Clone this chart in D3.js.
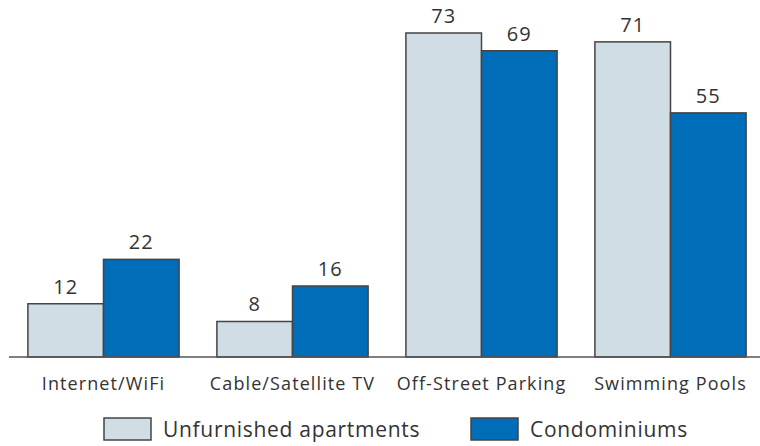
<!DOCTYPE html>
<html lang="en">
<head>
<meta charset="utf-8">
<title>Amenities</title>
<script src="https://cdn.jsdelivr.net/npm/d3@7/dist/d3.min.js"></script>
<style>
  body { margin: 0; background: #fff; }
  text { font-family: "Open Sans", "DejaVu Sans", sans-serif; fill: #333; }
</style>
</head>
<body>
<script>
// data
var categories = ["Internet/WiFi", "Cable/Satellite TV", "Off-Street Parking", "Swimming Pools"];
var seriesNames = ["Unfurnished apartments", "Condominiums"];
var unfurnished = [12, 8, 73, 71];
var condos = [22, 16, 69, 55];
var colors = ["#d0dde4", "#006db8"];

var width = 760, height = 446;
var baseY = 357;

var svg = d3.select("body").append("svg")
    .attr("width", width)
    .attr("height", height);

var x0 = d3.scaleBand()
    .domain(categories)
    .range([9, 765])
    .paddingInner(0.2)
    .paddingOuter(0.1);

var x1 = d3.scaleBand()
    .domain([0, 1])
    .range([0, x0.bandwidth()]);

var y = d3.scaleLinear()
    .domain([0, 73])
    .range([baseY, 33]);

var rows = categories.map(function (c, i) {
    return { cat: c, vals: [unfurnished[i], condos[i]] };
});

var groups = svg.selectAll("g.grp")
    .data(rows)
    .enter()
    .append("g")
    .attr("class", "grp")
    .attr("transform", function (d) { return "translate(" + x0(d.cat) + ",0)"; });

groups.selectAll("rect")
    .data(function (d) { return d.vals; })
    .enter()
    .append("rect")
    .attr("x", function (d, i) { return x1(i); })
    .attr("y", function (d) { return y(d); })
    .attr("width", x1.bandwidth())
    .attr("height", function (d) { return baseY - y(d); })
    .style("fill", function (d, i) { return colors[i]; })
    .style("stroke", "#444")
    .style("stroke-width", 1.5);

groups.selectAll("text.val")
    .data(function (d) { return d.vals; })
    .enter()
    .append("text")
    .attr("class", "val")
    .attr("x", function (d, i) { return x1(i) + x1.bandwidth() / 2; })
    .attr("y", function (d) { return y(d) - 10; })
    .attr("text-anchor", "middle")
    .style("font-size", "20px")
    .style("letter-spacing", "1px")
    .text(function (d) { return d; });

// baseline
svg.append("line")
    .attr("x1", 9).attr("x2", 760)
    .attr("y1", baseY).attr("y2", baseY)
    .style("stroke", "#555")
    .style("stroke-width", 1.5);

// category labels
svg.selectAll("text.cat")
    .data(categories)
    .enter()
    .append("text")
    .attr("class", "cat")
    .attr("x", function (d) { return x0(d) + x0.bandwidth() / 2; })
    .attr("y", 390)
    .attr("text-anchor", "middle")
    .style("font-size", "18px")
    .style("letter-spacing", "1.1px")
    .text(function (d) { return d; });

// legend
var legendX = [104, 471];
var leg = svg.selectAll("g.leg")
    .data(seriesNames)
    .enter()
    .append("g")
    .attr("class", "leg")
    .attr("transform", function (d, i) { return "translate(" + legendX[i] + ",418)"; });

leg.append("rect")
    .attr("width", 47)
    .attr("height", 22)
    .style("fill", function (d, i) { return colors[i]; })
    .style("stroke", "#444")
    .style("stroke-width", 1.5);

leg.append("text")
    .attr("x", 59)
    .attr("y", 19)
    .style("font-size", "21px")
    .style("letter-spacing", "0.7px")
    .text(function (d) { return d; });
</script>
</body>
</html>
